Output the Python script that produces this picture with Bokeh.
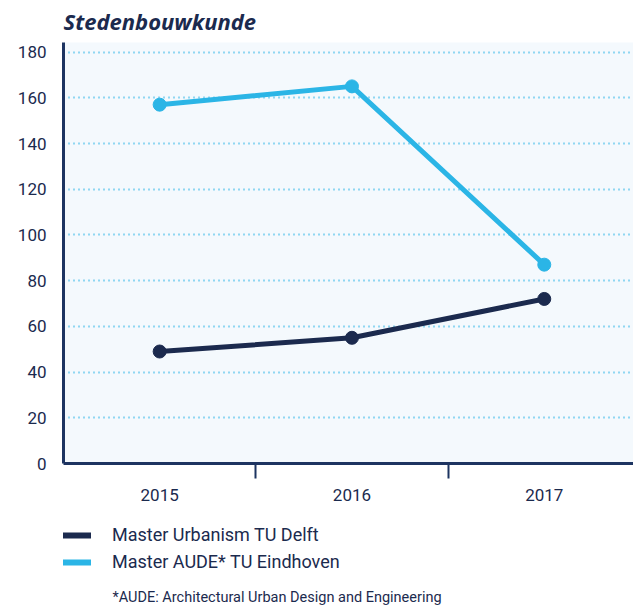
from bokeh.plotting import figure
from bokeh.layouts import column
from bokeh.models import (FixedTicker, Range1d, Legend, LegendItem, Title, Label)
from bokeh.embed import file_html
from bokeh.resources import INLINE

years = ["2015", "2016", "2017"]
delft = [49, 55, 72]
eindhoven = [157, 165, 87]
y_ticks = [0, 20, 40, 60, 80, 100, 120, 140, 160, 180]
series_names = ["Master Urbanism TU Delft", "Master AUDE* TU Eindhoven"]
title_text = "Stedenbouwkunde"
footnote = "*AUDE: Architectural Urban Design and Engineering"

NAVY = "#1b2a4e"
AXIS = "#1d3461"
BLUE = "#2bb5e6"
FONT = "Roboto"

xs = list(range(len(years)))

p = figure(width=633, height=508, output_backend="svg", toolbar_location=None,
           x_range=Range1d(-0.5, 2.464), y_range=Range1d(0, 184.2),
           min_border_left=63, min_border_right=0, min_border_top=39,
           min_border_bottom=45)
p.border_fill_color = "white"
p.outline_line_color = None
p.background_fill_color = "#f4f9fd"

p.xgrid.grid_line_color = None
p.ygrid.grid_line_color = BLUE
p.ygrid.grid_line_dash = "1 4"
p.ygrid.grid_line_width = 2
p.ygrid.ticker = FixedTicker(ticks=y_ticks[1:])

p.yaxis.ticker = FixedTicker(ticks=y_ticks)
p.yaxis.axis_line_color = AXIS
p.yaxis.axis_line_width = 3
p.yaxis.major_tick_line_color = None
p.yaxis.minor_tick_line_color = None
p.yaxis.major_label_text_font = FONT
p.yaxis.major_label_text_font_size = "17px"
p.yaxis.major_label_text_color = NAVY
p.yaxis.major_label_standoff = 11

p.xaxis.ticker = FixedTicker(ticks=xs, minor_ticks=[0.5, 1.5])
p.xaxis.major_label_overrides = {i: y for i, y in enumerate(years)}
p.xaxis.axis_line_color = AXIS
p.xaxis.axis_line_width = 3
p.xaxis.major_tick_line_color = None
p.xaxis.minor_tick_line_color = AXIS
p.xaxis.minor_tick_line_width = 2
p.xaxis.minor_tick_in = 0
p.xaxis.minor_tick_out = 15
p.xaxis.major_label_text_font = FONT
p.xaxis.major_label_text_font_size = "17px"
p.xaxis.major_label_text_color = NAVY
p.xaxis.major_label_standoff = 10

p.line(xs, delft, line_color=NAVY, line_width=5)
p.scatter(xs, delft, size=13, fill_color=NAVY, line_color=NAVY)
p.line(xs, eindhoven, line_color=BLUE, line_width=5)
p.scatter(xs, eindhoven, size=13, fill_color=BLUE, line_color=BLUE)

p.add_layout(Title(text=title_text, text_font="Open Sans", text_font_size="22px",
                   text_font_style="bold italic", text_color=NAVY, align="left",
                   vertical_align="top", offset=0, standoff=10), "above")

# legend + footnote panel (series drawn off-range, only their legend swatches show)
q = figure(width=633, height=100, output_backend="svg", toolbar_location=None,
           x_range=Range1d(-10, -9), y_range=Range1d(-10, -9),
           min_border=0, x_axis_type=None, y_axis_type=None)
q.outline_line_color = None
q.grid.grid_line_color = None
q.background_fill_color = "white"
q.border_fill_color = "white"
l1 = q.line(xs, delft, line_color=NAVY, line_width=6, line_cap="round")
l2 = q.line(xs, eindhoven, line_color=BLUE, line_width=6, line_cap="round")
legend = Legend(items=[LegendItem(label=series_names[0], renderers=[l1]),
                       LegendItem(label=series_names[1], renderers=[l2])],
                location=(-1, 36), orientation="vertical",
                background_fill_alpha=0, border_line_color=None,
                label_text_font=FONT, label_text_font_size="18px",
                label_text_color=NAVY, glyph_width=29, label_standoff=21,
                spacing=6, padding=0, margin=0)
q.add_layout(legend, "center")
q.add_layout(Label(x=49, y=11, x_units="screen", y_units="screen",
                   text=footnote, text_font=FONT, text_font_size="14.5px",
                   text_baseline="middle", text_color=NAVY))

open("out.html", "w").write(file_html(column(p, q, spacing=0), INLINE))
